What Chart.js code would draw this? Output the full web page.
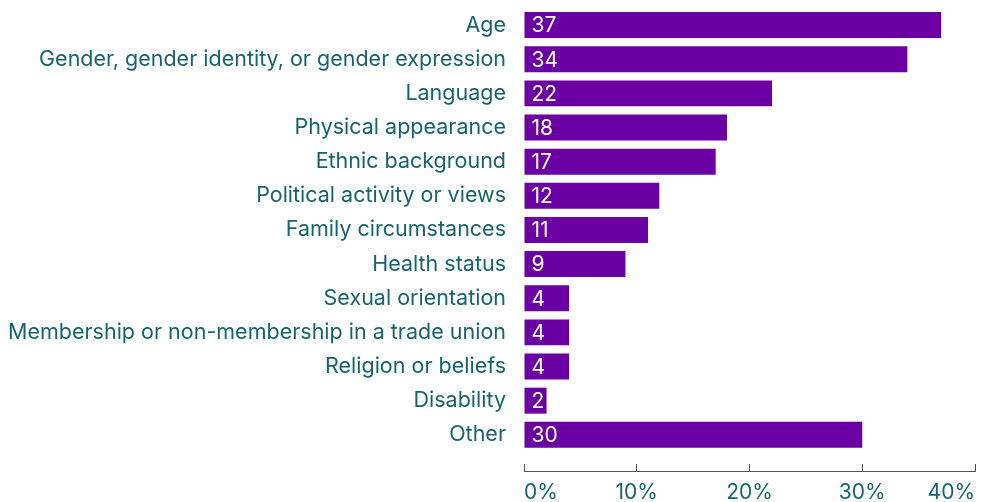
<!DOCTYPE html>
<html>
<head>
<meta charset="utf-8">
<script src="https://cdn.jsdelivr.net/npm/chart.js@4"></script>
<style>
  html, body { margin: 0; padding: 0; background: #fff; }
  #wrap { width: 983px; height: 502px; position: relative; }
</style>
</head>
<body>
<div id="wrap"><canvas id="groundsChart"></canvas></div>
<script>
// Grounds of discrimination, share of respondents (%)
const categories = [
    'Age',
    'Gender, gender identity, or gender expression',
    'Language',
    'Physical appearance',
    'Ethnic background',
    'Political activity or views',
    'Family circumstances',
    'Health status',
    'Sexual orientation',
    'Membership or non-membership in a trade union',
    'Religion or beliefs',
    'Disability',
    'Other'
];
const shares = [37, 34, 22, 18, 17, 12, 11, 9, 4, 4, 4, 2, 30];
const xTicks = [0, 10, 20, 30, 40];

const TEAL = '#17646e';
const PURPLE = '#6a00a3';
const FONT = 'Inter';
const FONT_SIZE = 21.5;

// White value labels at the start of each bar
const valueLabels = {
    id: 'valueLabels',
    afterDatasetsDraw(chart) {
        const ctx = chart.ctx;
        const meta = chart.getDatasetMeta(0);
        ctx.save();
        ctx.fillStyle = '#ffffff';
        ctx.font = '21px ' + FONT;
        ctx.textAlign = 'left';
        ctx.textBaseline = 'middle';
        meta.data.forEach((bar, i) => {
            ctx.fillText(String(shares[i]), bar.base + 7, bar.y + 1);
        });
        ctx.restore();
    }
};

document.addEventListener('DOMContentLoaded', function() {
    const ctx = document.getElementById('groundsChart');

    new Chart(ctx, {
        type: 'bar',
        data: {
            datasets: [{
                data: shares.map((v, i) => ({ x: v, y: i })),
                backgroundColor: PURPLE,
                borderWidth: 0,
                barPercentage: 0.76,
                categoryPercentage: 1
            }]
        },
        options: {
            indexAxis: 'y',
            responsive: true,
            maintainAspectRatio: false,
            animation: false,
            layout: {
                padding: { top: 8, right: 8, bottom: 0, left: 0 }
            },
            plugins: {
                legend: { display: false },
                tooltip: { enabled: false }
            },
            scales: {
                x: {
                    type: 'linear',
                    min: xTicks[0],
                    max: xTicks[xTicks.length - 1],
                    afterBuildTicks: s => { s.ticks = xTicks.map(v => ({ value: v })); },
                    afterFit: s => {
                        s.height = 31;
                        s.paddingLeft = 0;
                        s.paddingRight = 0;
                    },
                    grid: {
                        drawOnChartArea: false,
                        drawTicks: true,
                        tickLength: -7,
                        color: '#555555'
                    },
                    border: { display: true, color: '#555555', width: 1 },
                    ticks: {
                        align: 'inner',
                        padding: 16,
                        color: TEAL,
                        font: { family: FONT, size: 21 },
                        callback: v => v + '%'
                    }
                },
                y: {
                    type: 'linear',
                    reverse: true,
                    offset: false,
                    min: -0.5,
                    max: 13.06,
                    afterBuildTicks: s => { s.ticks = categories.map((c, i) => ({ value: i })); },
                    afterFit: s => {
                        s.width = 524;
                        s.paddingTop = 0;
                        s.paddingBottom = 0;
                    },
                    grid: {
                        drawOnChartArea: false,
                        drawTicks: true,
                        tickLength: 18,
                        color: 'rgba(0,0,0,0)'
                    },
                    border: { display: false },
                    ticks: {
                        autoSkip: false,
                        padding: 0,
                        color: TEAL,
                        font: { family: FONT, size: FONT_SIZE },
                        callback: v => categories[v]
                    }
                }
            }
        },
        plugins: [valueLabels]
    });
});
</script>
</body>
</html>
